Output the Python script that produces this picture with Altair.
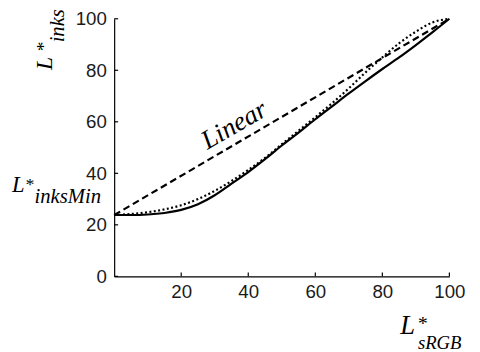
import altair as alt
import pandas as pd

# ---- data ----
x_vals = [0, 5, 10, 15, 20, 25, 30, 35, 40, 45, 50, 55, 60, 65, 70, 75, 80, 85, 90, 95, 100]
solid_vals = [23.8, 23.8, 24.0, 24.6, 25.8, 28.0, 31.5, 36.0, 40.5, 45.5, 50.8, 55.8,
              61.0, 66.0, 71.0, 75.8, 80.5, 85.0, 89.8, 94.8, 100.0]
dotted_vals = [23.8, 24.2, 24.9, 26.0, 27.6, 30.0, 33.2, 37.0, 41.3, 46.0, 51.3, 56.5,
               61.8, 67.2, 73.0, 79.2, 85.0, 90.5, 95.0, 98.6, 100.0]
linear_x = [0, 100]
linear_y = [23.8, 100.0]
x_ticks = [20, 40, 60, 80, 100]
y_ticks = [0, 20, 40, 60, 80, 100]
linear_label = ["Linear"]
linear_label_pos = [37.0, 56.0]

W, H = 341, 262
xs = alt.Scale(domain=[0, 100], nice=False, zero=False)
ys = alt.Scale(domain=[0, 100], nice=False, zero=False)

label_font = "Liberation Sans"
serif = "Liberation Serif"

df_solid = pd.DataFrame({"x": x_vals, "y": solid_vals})
df_dot = pd.DataFrame({"x": x_vals, "y": dotted_vals})
df_lin = pd.DataFrame({"x": linear_x, "y": linear_y})

x_axis = alt.Axis(values=x_ticks, ticks=False, grid=False, domainColor="black",
                  domainWidth=1.2, labelFont=label_font, labelFontSize=19, labelColor="#1a1a1a",
                  labelPadding=7, labelFlush=False, title=None)
y_axis = alt.Axis(values=y_ticks, ticks=False, grid=False, domainColor="black",
                  domainWidth=1.2, labelFont=label_font, labelFontSize=19, labelColor="#1a1a1a",
                  labelPadding=8, labelFlush=False, title=None)


def X(field):
    return alt.X(field, scale=xs, axis=x_axis)


def Y(field):
    return alt.Y(field, scale=ys, axis=y_axis)


solid = alt.Chart(df_solid).mark_line(color="black", strokeWidth=2.2, interpolate="monotone").encode(
    x=X("x:Q"), y=Y("y:Q"))
dotted = alt.Chart(df_dot).mark_line(color="black", strokeWidth=2.2, strokeDash=[2, 2.5],
                                     interpolate="monotone").encode(x=X("x:Q"), y=Y("y:Q"))
dashed = alt.Chart(df_lin).mark_line(color="black", strokeWidth=2.2, strokeDash=[7, 4]).encode(
    x=X("x:Q"), y=Y("y:Q"))

# inward tick marks
xt = alt.Chart(pd.DataFrame({"x": x_ticks})).mark_rule(color="black", strokeWidth=1.2).encode(
    x=X("x:Q"), y=alt.value(H), y2=alt.value(H - 4))
yt = alt.Chart(pd.DataFrame({"y": y_ticks})).mark_rule(color="black", strokeWidth=1.2).encode(
    y=Y("y:Q"), x=alt.value(0), x2=alt.value(4))

# "Linear" label along dashed line
lin_txt = alt.Chart(pd.DataFrame({"t": linear_label, "x": [linear_label_pos[0]],
                                  "y": [linear_label_pos[1]]})).mark_text(
    font=serif, fontStyle="italic", fontSize=27, angle=330, align="center",
    baseline="alphabetic", color="black").encode(x=X("x:Q"), y=Y("y:Q"), text="t:N")


def label(txt, px, py, size, angle=0, align="left"):
    return alt.Chart(pd.DataFrame({"t": [txt]})).mark_text(
        font=serif, fontStyle="italic", fontSize=size, angle=angle, align=align,
        baseline="alphabetic", color="black").encode(
        text="t:N", x=alt.value(px), y=alt.value(py))


titles = [
    # x title
    label("L", 291, 321, 27),
    label("*", 313, 317, 20, align="center"),
    label("sRGB", 309, 336, 19),
    # y title (rotated)
    label("L", -63, 52, 24, angle=270),
    label("*", -65, 29, 20, angle=270, align="center"),
    label("inks", -51, 24, 21, angle=270),
    # L*inksMin
    label("L", -104, 176, 23),
    label("*", -86.5, 174, 18, align="center"),
    label("inksMin", -81, 187, 21),
]

chart = alt.layer(solid, dotted, dashed, xt, yt, lin_txt, *titles).properties(
    width=W, height=H,
    autosize=alt.AutoSizeParams(type="none"),
    padding={"left": 108, "top": 8, "right": 23, "bottom": 74},
    background="white",
).configure_view(stroke=None)

chart.save("out.html", embed_options={"renderer": "svg", "actions": False})
